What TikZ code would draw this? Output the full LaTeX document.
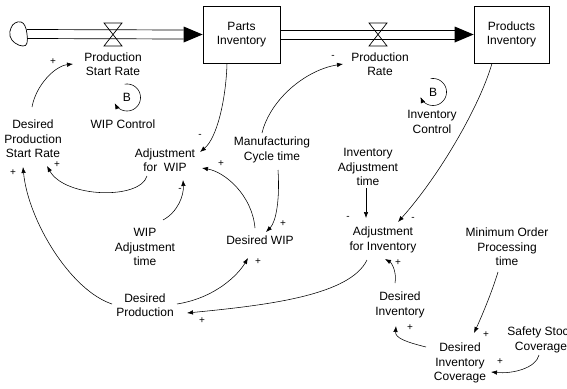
\documentclass[tikz,border=0pt]{standalone}
\usepackage{fontspec}
\setmainfont{Liberation Sans}
\usetikzlibrary{arrows.meta}
\begin{document}
\begin{tikzpicture}[x=1pt,y=-1pt,
  lbl/.style={align=center, inner sep=1pt, font=\fontsize{12}{14.5}\selectfont},
  sgn/.style={inner sep=0pt, font=\fontsize{10}{10}\selectfont},
  stock/.style={draw, line width=0.7pt, minimum height=57pt, align=center,
                font=\fontsize{12}{14.5}\selectfont, inner sep=0pt},
  link/.style={line width=0.55pt, -{Latex[length=6pt,width=4.5pt]}},
  pipe/.style={line width=0.7pt},
  valve/.style={line width=0.7pt},
]
\useasboundingbox (0,0) rectangle (567,388);
\clip (0,0) rectangle (567,388);

% ---------- stocks, flows, valves ----------
\node[stock, minimum width=77pt] (PI) at (241.5,34.5) {Parts\\Inventory};
\node[stock, minimum width=75pt] (PrI) at (511.5,34.5) {Products\\Inventory};

% source cloud
\coordinate (src) at (18,34);
\draw[line width=0.7pt] plot[smooth cycle, tension=0.7] coordinates
  {(15,23) (21,22) (25,26) (27,34) (27,43) (23,46) (15,43) (10,36) (11,28)};

\coordinate (v1) at (113,34.5);
\coordinate (v2) at (378,34.5);

% pipe into Parts Inventory
\draw[pipe] ([shift={(9,-4.5)}]src) -- ([shift={(-19,-4.5)}]PI.west);
\draw[pipe] ([shift={(9,4.5)}]src) -- ([shift={(-19,4.5)}]PI.west);
\fill (PI.west) -- ++(-19,-8) -- ++(0,16) -- cycle;

% pipe into Products Inventory
\draw[pipe] ([yshift=4.5pt]PI.east) -- ([shift={(-19,-4.5)}]PrI.west);
\draw[pipe] ([yshift=-4.5pt]PI.east) -- ([shift={(-19,4.5)}]PrI.west);
\fill (PrI.west) -- ++(-19,-8) -- ++(0,16) -- cycle;

% valves
\draw[valve] (v1) ++(-9,-11.5) -- ++(18,0) -- ++(-18,23) -- ++(18,0) -- cycle;
\draw[valve] (v2) ++(-9,-11.5) -- ++(18,0) -- ++(-18,23) -- ++(18,0) -- cycle;

% ---------- auxiliary variables ----------
\node[lbl] (psr)  at (113,64)  {Production\\Start Rate};
\node[lbl] (pr)   at (380,64)  {Production\\Rate};
\node[lbl] (wipc) at (123,124) {WIP Control};
\node[lbl] (invc) at (432,122) {Inventory\\Control};
\node[lbl] (dpsr) at (33,139)  {Desired\\Production\\Start Rate};
\node[lbl] (awip) at (165,160) {Adjustment\\for\ \ WIP};
\node[lbl] (mct)  at (272,150) {Manufacturing\\Cycle time};
\node[lbl] (dwip) at (260,240) {Desired WIP};
\node[lbl] (wat)  at (145,247) {WIP\\Adjustment\\time};
\node[lbl] (dp)   at (145,305) {Desired\\Production};
\node[lbl] (iat)  at (368,167) {Inventory\\Adjustment\\time};
\node[lbl] (ai)   at (383,240) {Adjustment\\for Inventory};
\node[lbl] (mopt) at (507,247) {Minimum Order\\Processing\\time};
\node[lbl] (di)   at (400,305) {Desired\\Inventory};
\node[lbl] (dic)  at (460,363) {Desired\\Inventory\\Coverage};
\node[lbl] (ssc)  at (541,340) {Safety Stock\\Coverage};

% ---------- balancing loop markers ----------
\node[lbl] (b1) at (127,97) {B};
\node[lbl] (b2) at (433,92) {B};
\draw[link] plot[domain=-100:155, samples=60] ({127+13.5*cos(\x)},{97.5+13.5*sin(\x)});
\draw[link] plot[domain=-100:158, samples=60] ({433+13.5*cos(\x)},{92+13.5*sin(\x)});

% ---------- causal links ----------
\draw[link] ([shift={(-1,-32)}]dpsr.center) .. controls +(4,-22) and +(-18,2) .. ([shift={(-40,0)}]psr.center);
\draw[link] ([xshift=-14.5pt]PI.south) .. controls +(-1,36) and +(17,-14) .. ([shift={(35,-8)}]awip.center);
\draw[link] ([shift={(-10,-17)}]mct.center) .. controls +(8,-33) and +(-38,6) .. ([shift={(-37,0)}]pr.center);
\draw[link] ([shift={(6,20)}]mct.center) .. controls +(2,30) and +(10,-10) .. ([shift={(6,-8)}]dwip.center);
\draw[link] ([shift={(-5,-12)}]dwip.center) .. controls +(-3,-33) and +(23,4) .. ([shift={(37,8)}]awip.center);
\draw[link] ([shift={(-18,16)}]awip.center) .. controls +(-7,24) and +(18,32) .. ([shift={(14,27)}]dpsr.center);
\draw[link] ([shift={(18,-27)}]wat.center) .. controls +(15,-8) and +(1,15) .. ([shift={(18,20)}]awip.center);
\draw[link] ([shift={(-33,-1)}]dp.center) .. controls +(-42,-14) and +(5,53) .. ([shift={(-10,28)}]dpsr.center);
\draw[link] ([shift={(32,-1)}]dp.center) .. controls +(38,-6) and +(-10,17) .. ([shift={(-12,18)}]dwip.center);
\draw[link] ([shift={(-16,20)}]ai.center) .. controls +(-17,35) and +(83,-8) .. ([shift={(42,8)}]dp.center);
\draw[link] ([xshift=-19.5pt]PrI.south) .. controls +(-12,42) and +(42,-47) .. ([shift={(15,-18)}]ai.center);
\draw[link] ([shift={(-2,21)}]iat.center) -- ([shift={(-17,-22)}]ai.center);
\draw[link] ([shift={(-5,-22)}]di.center) .. controls +(2,-10) and +(7,4) .. ([shift={(2,19)}]ai.center);
\draw[link] ([shift={(-34,-16)}]dic.center) .. controls +(-20,-5) and +(-1,12) .. ([shift={(-4,21)}]di.center);
\draw[link] ([shift={(-9,25)}]mopt.center) .. controls +(-6,20) and +(7,-15) .. ([shift={(14,-30)}]dic.center);
\draw[link] ([shift={(-2,15)}]ssc.center) .. controls +(-3,13) and +(22,2) .. ([shift={(31,9)}]dic.center);

% ---------- link polarities ----------
\node[sgn] (s1)  at (53,62)   {+};
\node[sgn] (s2)  at (200,136) {-};
\node[sgn] (s3)  at (333,57)  {-};
\node[sgn] (s4)  at (283,224) {+};
\node[sgn] (s5)  at (221,164) {+};
\node[sgn] (s6)  at (57,165)  {+};
\node[sgn] (s7)  at (180,190) {-};
\node[sgn] (s8)  at (13,173)  {+};
\node[sgn] (s9)  at (258,262) {+};
\node[sgn] (s10) at (202,321) {+};
\node[sgn] (s11) at (413,219) {-};
\node[sgn] (s12) at (348,218) {-};
\node[sgn] (s13) at (398,263) {+};
\node[sgn] (s14) at (410,328) {+};
\node[sgn] (s15) at (486,335) {+};
\node[sgn] (s16) at (500,362) {+};
\end{tikzpicture}
\end{document}
